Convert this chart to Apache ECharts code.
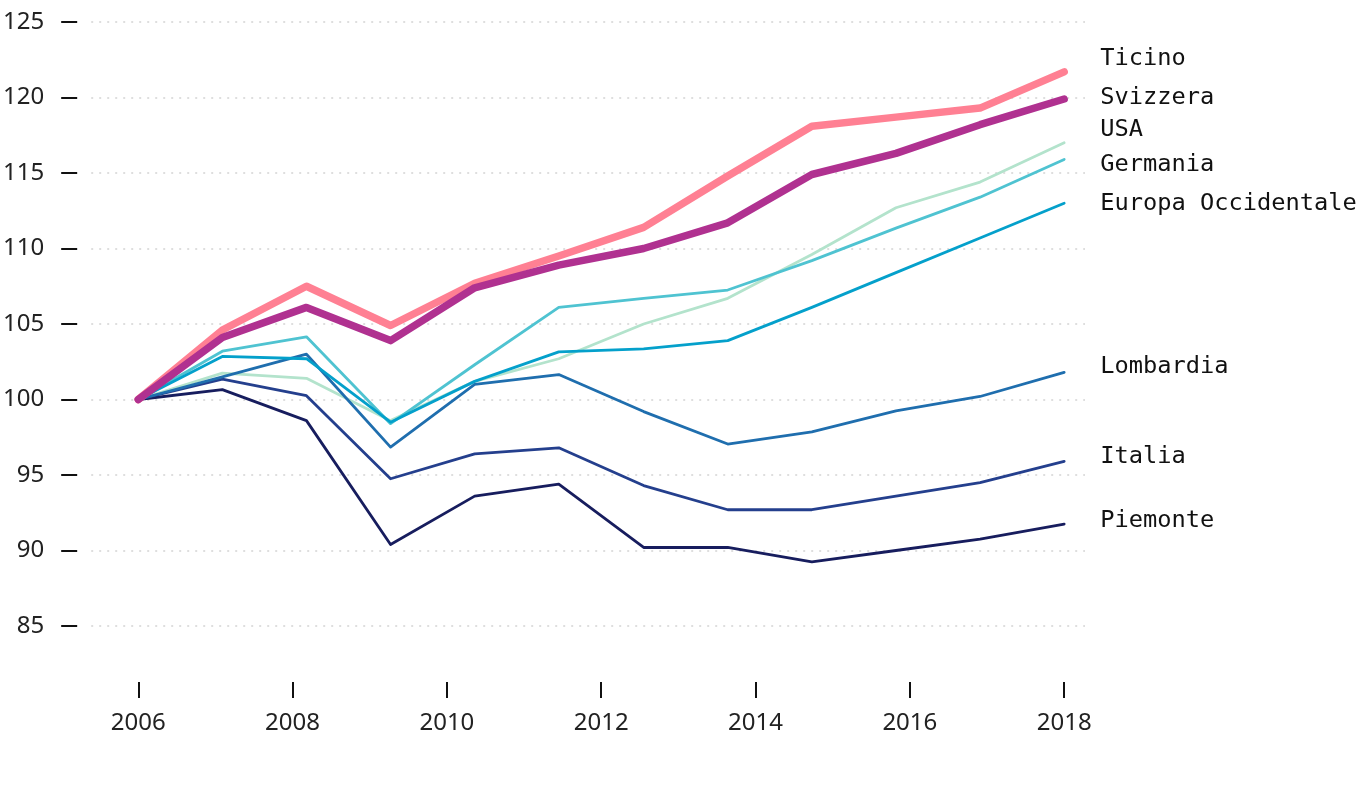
<!DOCTYPE html>
<html>
<head>
<meta charset="utf-8">
<script src="https://cdn.jsdelivr.net/npm/echarts@6/dist/echarts.min.js"></script>
<style>
html,body{margin:0;padding:0;background:#fff;}
#chart{width:1368px;height:804px;}
</style>
</head>
<body>
<div id="chart"></div>
<script>
// x positions (years) of the 12 observations
var xYears = [2006, 2007.09, 2008.18, 2009.27, 2010.36, 2011.45, 2012.55, 2013.64, 2014.73, 2015.82, 2016.91, 2018];
var xTickYears = [2006, 2008, 2010, 2012, 2014, 2016, 2018];
var yTicks = [85, 90, 95, 100, 105, 110, 115, 120, 125];

var seriesNames = ['USA', 'Piemonte', 'Italia', 'Lombardia', 'Germania', 'Europa Occidentale', 'Ticino', 'Svizzera'];

var usa        = [100, 101.75, 101.4, 98.6, 101.2, 102.7, 105.0, 106.7, 109.6, 112.7, 114.4, 117.0];
var piemonte   = [100, 100.65, 98.6, 90.4, 93.6, 94.4, 90.2, 90.2, 89.25, 90.0, 90.75, 91.75];
var italia     = [100, 101.35, 100.25, 94.75, 96.4, 96.8, 94.3, 92.7, 92.7, 93.6, 94.5, 95.9];
var lombardia  = [100, 101.5, 103.0, 96.85, 101.0, 101.65, 99.2, 97.05, 97.85, 99.25, 100.2, 101.8];
var germania   = [100, 103.2, 104.15, 98.4, 102.3, 106.1, 106.7, 107.25, 109.2, 111.35, 113.4, 115.9];
var europaOcc  = [100, 102.85, 102.7, 98.5, 101.2, 103.15, 103.35, 103.9, 106.1, 108.4, 110.7, 113.0];
var ticino     = [100, 104.6, 107.5, 104.9, 107.7, 109.5, 111.4, 114.8, 118.1, 118.7, 119.3, 121.7];
var svizzera   = [100, 104.1, 106.1, 103.9, 107.4, 108.9, 110.0, 111.7, 114.9, 116.3, 118.2, 119.9];

var seriesValues = [usa, piemonte, italia, lombardia, germania, europaOcc, ticino, svizzera];

// styles (not data)
var styles = {
  'USA':                {color: '#b3e3cc', width: 2.8, dy: -13},
  'Piemonte':           {color: '#171d5e', width: 2.8, dy: -3},
  'Italia':             {color: '#243f8d', width: 2.8, dy: -5},
  'Lombardia':          {color: '#1f6eae', width: 2.8, dy: -5},
  'Germania':           {color: '#4fc3d1', width: 2.8, dy: 5},
  'Europa Occidentale': {color: '#04a0cb', width: 2.8, dy: 1},
  'Ticino':             {color: '#ff8093', width: 7.5, dy: -13},
  'Svizzera':           {color: '#b03190', width: 7.5, dy: -1}
};

function pairs(vals) {
  return vals.map(function (v, i) { return [xYears[i], v]; });
}

var series = seriesNames.map(function (name, idx) {
  var st = styles[name];
  return {
    name: name,
    type: 'line',
    data: pairs(seriesValues[idx]),
    symbol: 'none',
    z: 2 + idx,
    clip: false,
    lineStyle: {color: st.color, width: st.width, cap: 'round', join: 'round'},
    itemStyle: {color: st.color},
    emphasis: {disabled: true},
    endLabel: {
      show: true,
      formatter: '{a}',
      distance: 36,
      offset: [0, st.dy],
      color: '#111',
      fontFamily: 'DejaVu Sans Mono',
      fontSize: 23.7,
      align: 'left',
      verticalAlign: 'middle'
    }
  };
});

var chart = echarts.init(document.getElementById('chart'), null, {renderer: 'canvas'});
chart.setOption({
  animation: false,
  backgroundColor: '#ffffff',
  grid: {left: 90, right: 283, top: 22, bottom: 178, containLabel: false},
  xAxis: {
    type: 'value',
    min: 2005.39,
    max: 2018.27,
    offset: 56,
    axisLine: {show: false},
    axisTick: {show: true, length: 16, customValues: xTickYears, lineStyle: {color: '#111', width: 2}},
    axisLabel: {
      show: true, customValues: xTickYears, margin: 29,
      color: '#222', fontFamily: 'Noto Sans', fontSize: 24,
      formatter: function (v) { return String(Math.round(v)); }
    },
    splitLine: {show: false}
  },
  yAxis: {
    type: 'value',
    min: 85,
    max: 125,
    interval: 5,
    offset: 14,
    axisLine: {show: false},
    axisTick: {show: true, length: 16, lineStyle: {color: '#111', width: 2}},
    axisLabel: {margin: 33, color: '#222', fontFamily: 'Noto Sans', fontSize: 24},
    splitLine: {show: true, lineStyle: {color: '#d4d4d4', width: 1.5, type: [2, 6]}}
  },
  series: series
});
</script>
</body>
</html>
